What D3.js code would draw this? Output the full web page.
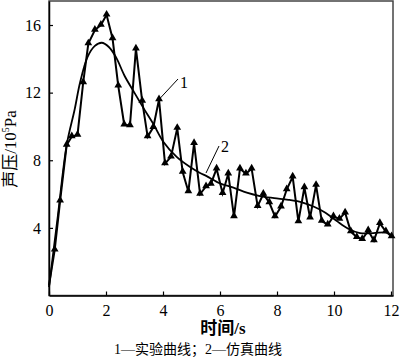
<!DOCTYPE html>
<html>
<head>
<meta charset="utf-8">
<script src="https://cdn.jsdelivr.net/npm/d3@7/dist/d3.min.js"></script>
<style>
  html, body { margin: 0; padding: 0; background: #fff; }
  svg { display: block; }
  .serif { font-family: "Liberation Serif", "Times New Roman", "Noto Sans CJK SC", serif; fill: #000; }
</style>
</head>
<body>
<svg id="chart" width="400" height="362"></svg>
<script>
// ----------
// curve 1: measured (experimental) points, read off the picture
var expTime = [0, 0.2, 0.39, 0.62, 0.8, 1.0, 1.2, 1.38, 1.61, 1.82, 2.02, 2.23, 2.43, 2.64, 2.84,
  3.05, 3.27, 3.46, 3.66, 3.86, 4.07, 4.28, 4.5, 4.69, 4.89, 5.09, 5.3, 5.51, 5.68, 5.88,
  6.09, 6.29, 6.49, 6.7, 6.91, 7.11, 7.32, 7.52, 7.73, 7.93, 8.14, 8.34, 8.55, 8.75, 8.96,
  9.16, 9.37, 9.57, 9.78, 9.98, 10.19, 10.39, 10.59, 10.8, 10.99, 11.2, 11.4, 11.61, 11.82, 12.02];
var expPressure = [0.6, 2.7, 5.6, 8.9, 9.4, 9.5, 12.6, 14.9, 15.7, 16.0, 16.6, 15.2, 12.4, 10.1, 10.05,
  14.6, 11.5, 9.4, 9.95, 11.6, 7.8, 8.2, 9.9, 7.3, 6.15, 9.0, 6.0, 6.45, 6.6, 7.5,
  6.05, 7.2, 4.67, 7.5, 7.2, 7.5, 5.28, 6.0, 5.5, 4.67, 5.25, 6.27, 7.02, 4.37, 6.39,
  4.6, 6.53, 4.41, 4.18, 4.67, 4.53, 4.9, 3.78, 3.45, 3.33, 3.84, 3.25, 4.27, 3.78, 3.49];

// curve 2: simulation
var simTime = [0, 0.31, 0.62, 0.9, 1.09, 1.35, 1.6, 1.85, 2.1, 2.35, 2.65, 2.96, 3.31, 3.66, 4.01,
  4.48, 4.95, 5.3, 5.53, 6.0, 6.47, 6.94, 7.4, 7.9, 8.4, 8.9, 9.3, 9.7, 10.1, 10.5,
  10.91, 11.38, 11.85, 12.04];
var simPressure = [0.5, 4.7, 8.9, 11.0, 12.6, 14.1, 14.75, 14.95, 14.7, 14.1, 13.0, 12.1, 11.1, 10.15, 9.1,
  8.2, 7.6, 7.25, 7.06, 6.63, 6.38, 6.08, 5.88, 5.76, 5.66, 5.5, 5.25, 4.9, 4.4, 3.95,
  3.69, 3.69, 3.72, 3.53];

var xTicks = [0, 2, 4, 6, 8, 10, 12];
var yTicks = [4, 8, 12, 16];

// ----------
var svg = d3.select('#chart');
// plot box (note: "top" is a reserved window property, so use a prefix)
var plotLeft = 49, plotRight = 393, plotTop = 1, plotBottom = 295.5;

var x = d3.scaleLinear().domain([0, 12.07]).range([plotLeft, plotRight]);
var y = d3.scaleLinear().domain([0, 17.42]).range([plotBottom, plotTop]);

var expData = expTime.map(function(t, i) { return [t, expPressure[i]]; });
var simData = simTime.map(function(t, i) { return [t, simPressure[i]]; });

// ----------
// frame
svg.append('rect')
  .attr('x', plotLeft).attr('y', plotTop)
  .attr('width', plotRight - plotLeft).attr('height', plotBottom - plotTop)
  .attr('fill', 'none')
  .attr('stroke', '#444')
  .attr('stroke-width', 1.5);

// inward ticks
var xAxis = d3.axisBottom(x).tickValues(xTicks).tickSizeInner(-4).tickSizeOuter(0).tickPadding(9);
var gx = svg.append('g').attr('transform', 'translate(0,' + plotBottom + ')').call(xAxis);
gx.select('.domain').attr('stroke', '#000').attr('stroke-width', 1.5);
gx.selectAll('.tick line').attr('stroke', '#000').attr('stroke-width', 1.2);
gx.selectAll('.tick text').attr('class', 'serif').attr('font-size', 16).attr('fill', '#000');

var yAxis = d3.axisLeft(y).tickValues(yTicks).tickSizeInner(-4).tickSizeOuter(0).tickPadding(8);
var gy = svg.append('g').attr('transform', 'translate(' + plotLeft + ',0)').call(yAxis);
gy.select('.domain').attr('stroke', '#000').attr('stroke-width', 1.5);
gy.selectAll('.tick line').attr('stroke', '#000').attr('stroke-width', 1.2);
gy.selectAll('.tick text').attr('class', 'serif').attr('font-size', 16).attr('fill', '#000');

// ----------
// curves
var line = d3.line().x(function(d) { return x(d[0]); }).y(function(d) { return y(d[1]); });

svg.append('path')
  .datum(simData)
  .attr('d', line.curve(d3.curveCatmullRom.alpha(0.5)))
  .attr('fill', 'none')
  .attr('stroke', '#000')
  .attr('stroke-width', 1.8);

svg.append('path')
  .datum(expData)
  .attr('d', d3.line().x(function(d) { return x(d[0]); }).y(function(d) { return y(d[1]); }))
  .attr('fill', 'none')
  .attr('stroke', '#000')
  .attr('stroke-width', 2)
  .attr('stroke-linejoin', 'miter');

var tri = d3.symbol().type(d3.symbolTriangle).size(26);
svg.append('g').selectAll('path')
  .data(expData.slice(1))
  .enter().append('path')
  .attr('d', tri)
  .attr('transform', function(d) { return 'translate(' + x(d[0]) + ',' + (y(d[1]) - 0.5) + ')'; })
  .attr('fill', '#000');

// ----------
// leader lines and curve numbers
svg.append('line')
  .attr('x1', x(3.86) + 1).attr('y1', y(11.6) - 1)
  .attr('x2', 178).attr('y2', 79)
  .attr('stroke', '#000').attr('stroke-width', 1);
svg.append('text').attr('class', 'serif')
  .attr('x', 180).attr('y', 88).attr('font-size', 16).text('1');

svg.append('line')
  .attr('x1', 206).attr('y1', 173)
  .attr('x2', 219).attr('y2', 146)
  .attr('stroke', '#000').attr('stroke-width', 1);
svg.append('text').attr('class', 'serif')
  .attr('x', 221).attr('y', 152).attr('font-size', 16).text('2');

// ----------
// axis titles
var ty = svg.append('text').attr('class', 'serif')
  .attr('transform', 'translate(16,149) rotate(-90)')
  .attr('text-anchor', 'middle')
  .attr('font-size', 17);
ty.append('tspan').text('声压/10');
ty.append('tspan').attr('font-size', 10).attr('dy', -7).text('5');
ty.append('tspan').attr('dy', 7).text('Pa');

svg.append('text').attr('class', 'serif')
  .attr('x', 223).attr('y', 334)
  .attr('text-anchor', 'middle')
  .attr('font-size', 17)
  .attr('font-weight', 'bold')
  .text('时间/s');

svg.append('text').attr('class', 'serif')
  .attr('x', 198).attr('y', 354)
  .attr('text-anchor', 'middle')
  .attr('font-size', 14)
  .text('1—实验曲线；2—仿真曲线');
</script>
</body>
</html>
